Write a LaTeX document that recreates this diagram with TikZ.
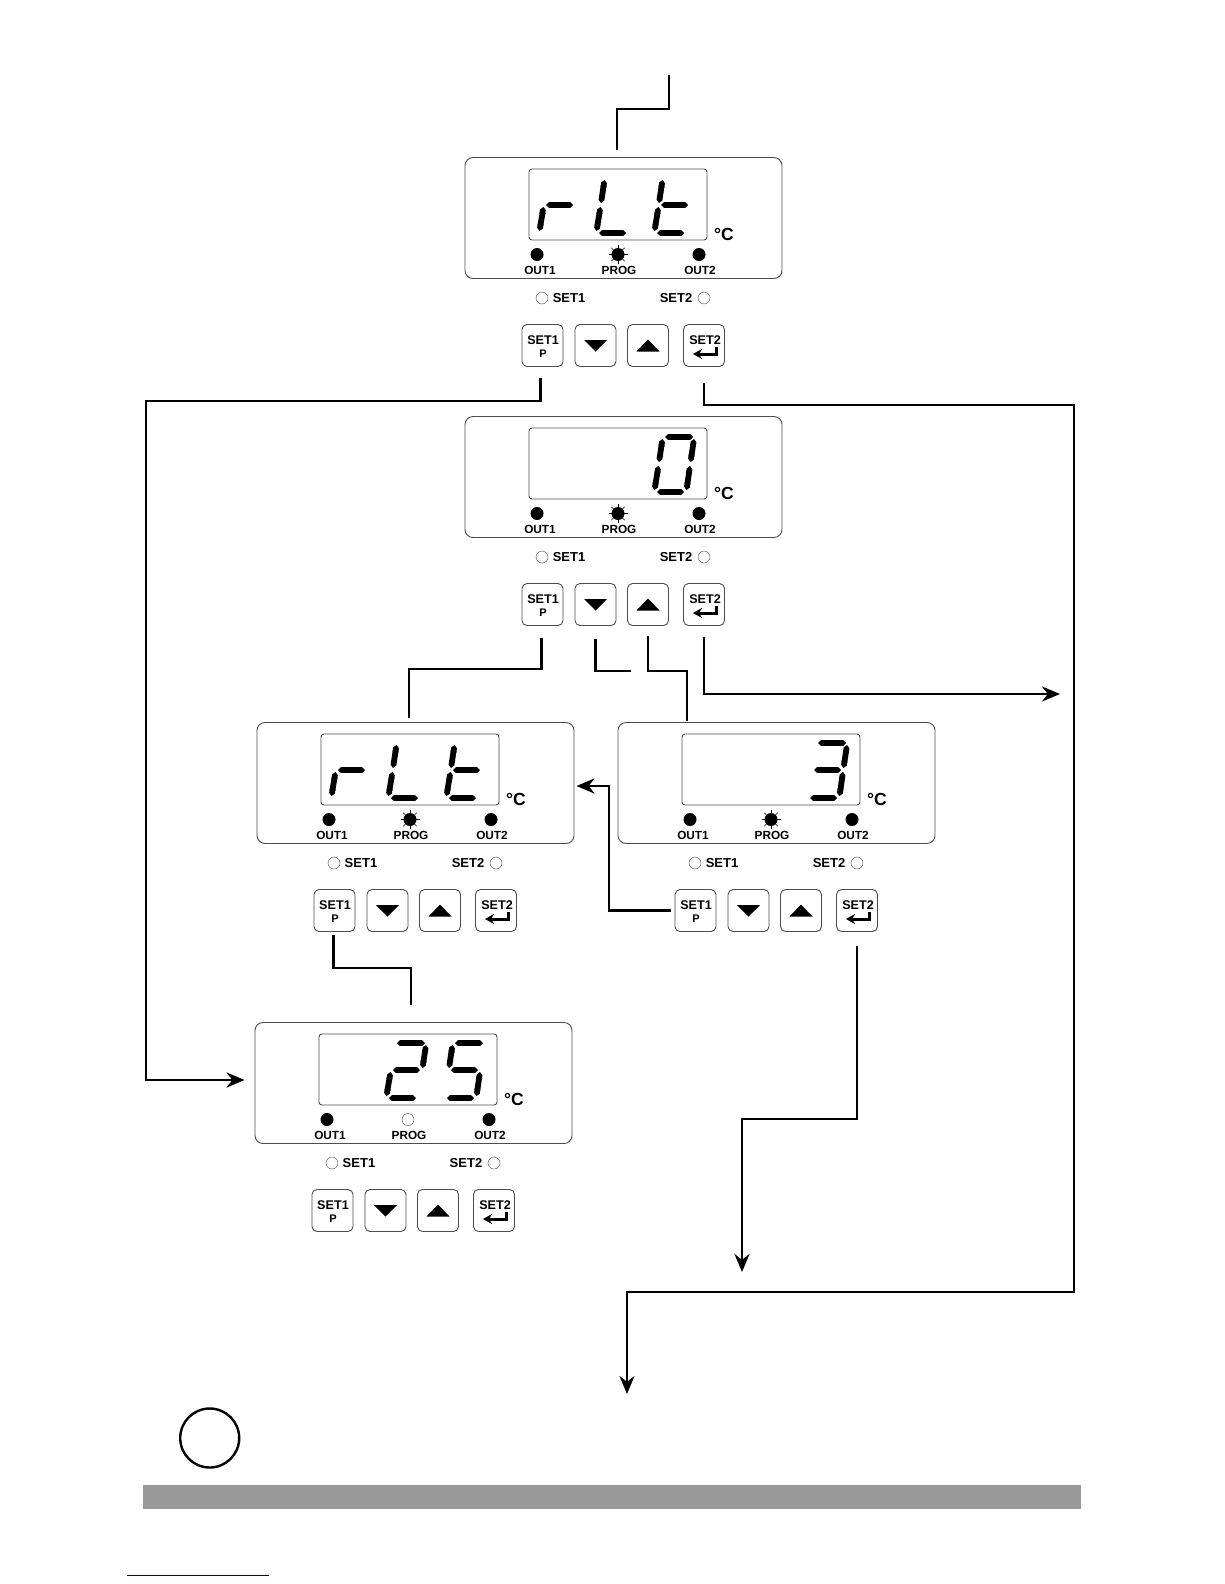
\documentclass[tikz,border=0pt]{standalone}
\usepackage{fontspec}
\setmainfont{Liberation Sans}
\usetikzlibrary{calc}
\usetikzlibrary{arrows.meta}

% segments of one digit, origin at its lower left corner
\newcommand{\sega}{\draw[seg] (10,-55) -- (38,-55);}
\newcommand{\segb}{\draw[seg] (39,-53) -- (35.5,-30);}
\newcommand{\segc}{\draw[seg] (35,-26) -- (31.5,-2);}
\newcommand{\segd}{\draw[seg] (2,0) -- (29,0);}
\newcommand{\sege}{\draw[seg] (-0.5,-2) -- (3.5,-26);}
\newcommand{\segf}{\draw[seg] (4,-30) -- (7.5,-53);}
\newcommand{\segg}{\draw[seg] (6,-28) -- (33,-28);}

% lit and dark state of the PROG lamp
\newcommand{\progon}{%
  \foreach \ang in {0,45,...,315} \draw[thin] (153,97.5) -- ++(\ang:9.5);
  \node[lamp,fill=black,minimum size=13pt] (prog) at (153,97.5) {};}
\newcommand{\progoff}{\node[lamp,draw=black!70,thin] (prog) at (153,97.5) {};}

% one unit: name, left, top, digits, prog lamp
\newcommand{\panel}[5]{%
  \begin{scope}[shift={(#2,#3)}]
    \node[panelbox] (#1box) at (158.5,61) {};
    \node[screen] (#1screen) at (153,47.5) {};
    #4
    \node[lbl,font=\bfseries\fontsize{17.5}{17.5}\selectfont] (#1unit) at (259,77) {°C};
    \node[lamp,fill=black,minimum size=13pt] (#1outa) at (72,97.5) {};
    \node[lamp,fill=black,minimum size=13pt] (#1outb) at (234,97.5) {};
    #5
    \node[lbl] (#1la) at (75,113) {OUT1};
    \node[lbl] (#1lp) at (154,113) {PROG};
    \node[lbl] (#1lb) at (235,113) {OUT2};
    \node[lamp,draw=black!70,thin] (#1ringa) at (77,141) {};
    \node[lbl,font=\bfseries\fontsize{13}{13}\selectfont] (#1seta) at (104,141) {SET1};
    \node[lbl,font=\bfseries\fontsize{13}{13}\selectfont] (#1setb) at (211,141) {SET2};
    \node[lamp,draw=black!70,thin] (#1ringb) at (239,141) {};
    \node[btn] (#1set) at (77.5,188.5) {};
    \node[btn] (#1dn) at (130.5,188.5) {};
    \node[btn] (#1up) at (183,188.5) {};
    \node[btn] (#1ent) at (239,188.5) {};
    \node[lbl,font=\bfseries\fontsize{12.6}{12.6}\selectfont] (#1tseta) at (78,183) {SET1};
    \node[lbl,font=\bfseries\fontsize{11}{11}\selectfont] (#1tp) at (78,197) {P};
    \node[lbl,font=\bfseries\fontsize{12.6}{12.6}\selectfont] (#1tsetb) at (240,183) {SET2};
    \fill (119,183) -- (142,183) -- (130.5,194.5) -- cycle; % down key
    \fill (171.5,194.5) -- (194.5,194.5) -- (183,182.5) -- cycle; % up key
    \draw[line width=3pt,-{Stealth[length=9pt,width=10pt]}] (251,190) |- (228,197); % return sign
  \end{scope}}

\begin{document}
\begin{tikzpicture}[
  x=1pt,y=-1pt,
  >={Stealth[length=18pt,width=15pt]}, % defines the style of the arrow
  conn/.style={line width=2.8pt}, % style of the connectors
  seg/.style={line width=5.8pt,{Triangle Cap[]}-{Triangle Cap[]}}, % one display segment
  panelbox/.style={draw=black!70,line width=0.9pt,rounded corners=8pt,minimum width=317pt,minimum height=121pt,inner sep=0pt},
  screen/.style={draw=black!70,line width=0.9pt,rounded corners=3pt,minimum width=178pt,minimum height=71pt,inner sep=0pt},
  btn/.style={draw=black!70,line width=0.9pt,rounded corners=5pt,minimum width=41pt,minimum height=42pt,inner sep=0pt},
  lamp/.style={circle,inner sep=0pt,minimum size=12pt},
  lbl/.style={font=\bfseries\fontsize{11.8}{11.8}\selectfont,inner sep=0pt}
  ]
  \useasboundingbox (0,0) rectangle (1224,1584);

  \panel{p1}{465}{157}{%
    \begin{scope}[shift={(75,76)}]\sege\segg\end{scope}
    \begin{scope}[shift={(132,76)}]\segf\sege\segd\end{scope}
    \begin{scope}[shift={(190,76)}]\segf\sege\segd\segg\end{scope}}{\progon}
  \panel{p2}{465}{416}{%
    \begin{scope}[shift={(190,76)}]\sega\segb\segc\segd\sege\segf\end{scope}}{\progon}
  \panel{p3}{257}{722}{%
    \begin{scope}[shift={(75,76)}]\sege\segg\end{scope}
    \begin{scope}[shift={(132,76)}]\segf\sege\segd\end{scope}
    \begin{scope}[shift={(190,76)}]\segf\sege\segd\segg\end{scope}}{\progon}
  \panel{p4}{618}{722}{%
    \begin{scope}[shift={(190,76)}]\sega\segb\segc\segd\segg\end{scope}}{\progon}
  \panel{p5}{255}{1022}{%
    \begin{scope}[shift={(132,76)}]\sega\segb\segg\sege\segd\end{scope}
    \begin{scope}[shift={(190,76)}]\sega\segf\segg\segc\segd\end{scope}}{\progoff}

  % free ends of the connectors
  \coordinate (entry) at (669,75);
  \coordinate (entryend) at (617,150);
  \coordinate (stub) at (631,671);
  \coordinate (nextright) at (1060,694);
  \coordinate (nextmid) at (742,1272);
  \coordinate (nextlow) at (627,1394);

  \draw[conn] (entry) |- (617,109) -- (entryend);
  \draw[conn,->,shorten <=11pt,shorten >=10pt] ([xshift=-2pt]p1set.south) |- (146,401) |- ([yshift=3pt]p5box.west);
  \draw[conn,->,shorten <=16pt] (p1ent.south) |- (1074,405) |- (627,1292) -- (nextlow);
  \draw[conn,shorten <=12pt,shorten >=4pt] ([xshift=-1pt]p2set.south) |- (409,669) -- (p3box.north -| 409,0);
  \draw[conn,shorten <=13pt] (p2dn.south) |- (stub);
  \draw[conn,shorten <=10pt,shorten >=1pt] (p2up.south) |- (687,671) -- (p4box.north -| 687,0);
  \draw[conn,->,shorten <=11pt] (p2ent.south) |- (nextright);
  \draw[conn,->,shorten <=4pt,shorten >=2pt] (p4set.west) -| (609,786) -- (p3box.east |- 609,786);
  \draw[conn,shorten <=3pt,shorten >=17pt] ([xshift=-1pt]p3set.south) |- (411,968) -- (p5box.north -| 411,0);
  \draw[conn,->,shorten <=14pt] (p4ent.south) |- (742,1119) -- (nextmid);

  \node[circle,draw,line width=2.4pt,minimum size=59pt,inner sep=0pt] (badge) at (209.7,1438) {};
  \fill[black!40] (143,1485) rectangle (1081,1509);
  \draw[blue!50!black,line width=1pt] (127,1575) -- (269,1575);
\end{tikzpicture}
\end{document}
